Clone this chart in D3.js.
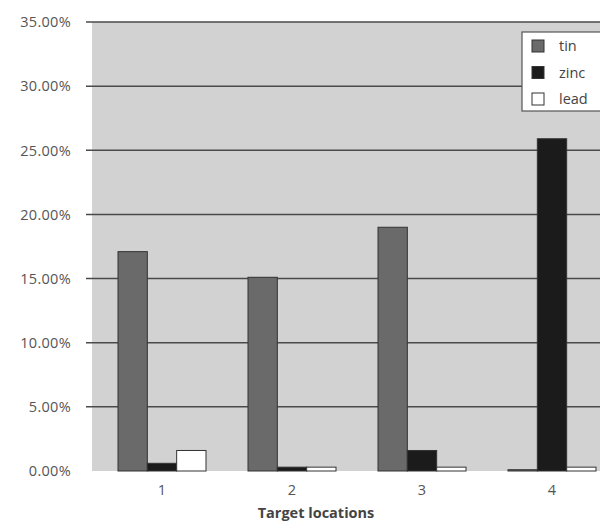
<!DOCTYPE html>
<html><head><meta charset="utf-8">
<script src="https://cdn.jsdelivr.net/npm/d3@7"></script>
<style>body{margin:0;background:#fff;} svg{display:block;}</style>
</head><body>
<svg id="c" width="600" height="522"></svg>
<script>
const categories = ["1","2","3","4"];
const seriesNames = ["tin","zinc","lead"];
const tin  = [17.1, 15.1, 19.0, 0.1];
const zinc = [0.6, 0.3, 1.6, 25.9];
const lead = [1.6, 0.3, 0.3, 0.3];
const yTicks = [0,5,10,15,20,25,30,35];
const xTitle = "Target locations";

(function(){
const colors = {tin:"#6a6a6a", zinc:"#1b1b1b", lead:"#ffffff"};
const seriesData = {tin, zinc, lead};

const svg = d3.select("#c");
const font = "'Open Sans', 'DejaVu Sans', sans-serif";
const plotLeft = 92, plotRight = 600, plotTop = 22, plotBottom = 471;

const y = d3.scaleLinear().domain([0,35]).range([plotBottom, plotTop]);
const x = d3.scaleBand().domain(categories).range([97, 617]).paddingInner(0).paddingOuter(0);
const xs = d3.scaleBand().domain(seriesNames).range([x.bandwidth()/2 - 44, x.bandwidth()/2 + 44]);

svg.append("rect").attr("x", plotLeft).attr("y", plotTop).attr("width", plotRight - plotLeft)
  .attr("height", plotBottom - plotTop).attr("fill", "#d2d2d2");

svg.append("g").selectAll("line").data(yTicks.filter(d=>d>0)).join("line")
  .attr("x1", 86).attr("x2", plotRight)
  .attr("y1", d=>y(d)).attr("y2", d=>y(d))
  .attr("stroke", "#4a4a4a").attr("stroke-width", 1.5);

svg.append("g").selectAll("text").data(yTicks).join("text")
  .attr("x", 71).attr("y", d=>y(d)).attr("dy", "0.36em")
  .attr("text-anchor", "end").attr("font-family", font).attr("font-size", 14.5)
  .attr("letter-spacing", 0.3)
  .attr("fill", "#555").text(d=>d.toFixed(2)+"%");

const g = svg.append("g");
categories.forEach((c, i) => {
  seriesNames.forEach(s => {
    const v = seriesData[s][i];
    g.append("rect")
      .attr("x", x(c) + xs(s)).attr("width", xs.bandwidth())
      .attr("y", y(v)).attr("height", y(0) - y(v))
      .attr("fill", colors[s]).attr("stroke", "#333").attr("stroke-width", 1);
  });
});

svg.append("g").selectAll("text").data(categories).join("text")
  .attr("x", d=>x(d)+x.bandwidth()/2).attr("y", 495)
  .attr("text-anchor", "middle").attr("font-family", font).attr("font-size", 14.5)
  .attr("fill", "#555").text(d=>d);

svg.append("text").attr("x", 316).attr("y", 518).attr("text-anchor", "middle")
  .attr("font-family", font).attr("font-size", 14.5).attr("font-weight", "bold")
  .attr("fill", "#444").text(xTitle);

const lg = svg.append("g");
lg.append("rect").attr("x", 522).attr("y", 32).attr("width", 90).attr("height", 79)
  .attr("fill", "#fff").attr("stroke", "#555").attr("stroke-width", 1.2);
seriesNames.forEach((s, i) => {
  const yy = 46 + i*26.5;
  lg.append("rect").attr("x", 532).attr("y", yy-6).attr("width", 12).attr("height", 12)
    .attr("fill", colors[s]).attr("stroke", "#333").attr("stroke-width", 1);
  lg.append("text").attr("x", 559).attr("y", yy).attr("dy", "0.36em")
    .attr("font-family", font).attr("font-size", 14.5).attr("fill", "#444").text(s);
});
})();
</script>
</body></html>
